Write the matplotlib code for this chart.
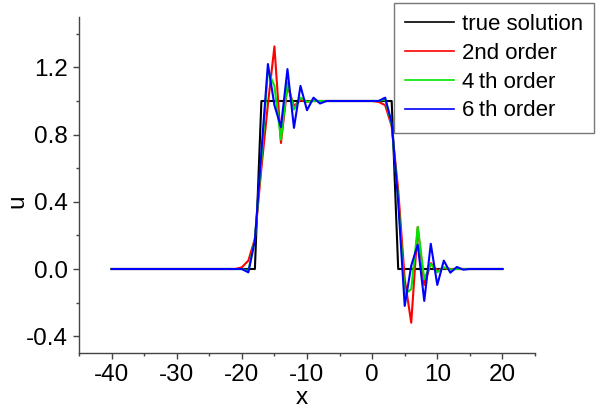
import numpy as np
import matplotlib
matplotlib.use("Agg")
import matplotlib.pyplot as plt
from matplotlib.ticker import MultipleLocator

plt.rcParams['font.family'] = ['Liberation Sans', 'DejaVu Sans']

x = list(range(-40, 21))

true_solution = [0]*23 + [1]*21 + [0]*17

second_order = ([0]*20 +
    [0.01, 0.05, 0.18, 0.6, 0.98, 1.325, 0.75, 1.09, 0.97, 1.005, 0.995] +
    [1.0]*10 +
    [0.995, 0.975, 0.85, 0.47, -0.06, -0.32, 0.25, -0.095, 0.035, -0.01, 0.005] +
    [0]*9)

fourth_order = ([0]*21 +
    [-0.012, 0.18, 0.65, 1.18, 1.09, 0.77, 1.11, 0.95, 1.02, 0.995] +
    [1.0]*10 +
    [1.0, 1.01, 0.86, 0.42, -0.15, -0.12, 0.25, -0.06, 0.03, -0.02, 0.01, -0.003] +
    [0]*8)

sixth_order = ([0]*21 +
    [-0.02, 0.17, 0.7, 1.22, 0.975, 0.845, 1.19, 0.84, 1.09, 0.945, 1.02, 0.985, 1.0] +
    [1.0]*7 +
    [1.0, 1.02, 0.87, 0.4, -0.22, 0.02, 0.145, -0.19, 0.15, -0.095, 0.05, -0.022, 0.012, -0.004] +
    [0]*6)

labels = ['true solution', '2nd order', '4\u2009th order', '6\u2009th order']
colors = ['black', '#ff0000', '#00e600', '#0000ff']
series = [true_solution, second_order, fourth_order, sixth_order]

W, H = 596, 411
fig = plt.figure(figsize=(W/100, H/100), dpi=100)
ax = fig.add_axes([79/W, (H-353)/H, (535-79)/W, (353-17)/H])

for s, c, l in zip(series, colors, labels):
    ax.plot(x, s, color=c, lw=1.5, label=l)

ax.set_xlim(-45, 25)
ax.set_ylim(-0.5, 1.5)
ax.xaxis.set_minor_locator(MultipleLocator(5))
ax.yaxis.set_minor_locator(MultipleLocator(0.2))
ax.set_yticks([-0.4, 0.0, 0.4, 0.8, 1.2])
ax.set_yticklabels(['-0.4', '0.0', '0.4', '0.8', '1.2'])
ax.set_xticks([-40, -30, -20, -10, 0, 10, 20])
ax.set_xticklabels(['-40', '-30', '-20', '-10', '0', '10', '20'])

for sp in ['top', 'right']:
    ax.spines[sp].set_visible(False)
for sp in ['left', 'bottom']:
    ax.spines[sp].set_color('#444444')
    ax.spines[sp].set_linewidth(1.0)

ax.tick_params(which='major', length=4.5, width=1, color='#444444', labelsize=17.5, pad=3.5)
ax.tick_params(which='minor', length=2.5, width=1, color='#444444')

ax.set_xlabel('x', fontsize=17.5)
ax.set_ylabel('u', fontsize=17.5)
ax.xaxis.set_label_coords((302-79)/456, -0.102)
ax.yaxis.set_label_coords(-0.11, (353-201)/336)

leg = ax.legend(loc='upper right', bbox_to_anchor=(594/W, 1 - 3/H), bbox_transform=fig.transFigure,
                borderaxespad=0, fontsize=16, frameon=True, fancybox=False,
                handlelength=2.2, handletextpad=0.35, labelspacing=0.35, borderpad=0.5)
leg.get_frame().set_edgecolor('#555555')
leg.get_frame().set_linewidth(1.0)
for line in leg.get_lines():
    line.set_linewidth(1.2)

fig.savefig('out.png', dpi=100)
